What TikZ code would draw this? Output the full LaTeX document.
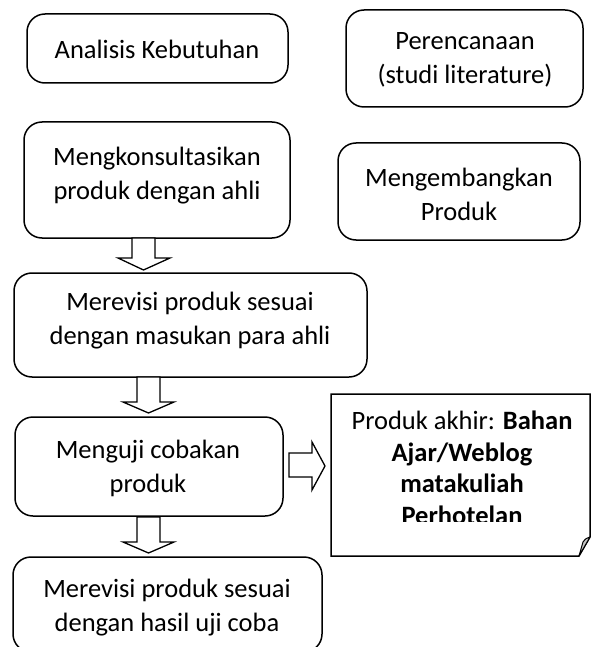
\documentclass[tikz,border=0pt]{standalone}
\usepackage{fontspec}
\setmainfont{Carlito}
\begin{document}
\begin{tikzpicture}[x=1pt,y=-1pt,
  box/.style={draw, line width=1.5pt, rounded corners=18pt, inner sep=0pt, outer sep=0pt},
  txt/.style={align=center, font=\fontsize{26.5}{34}\selectfont, inner sep=0pt},
  barrow/.style={draw, line width=1.3pt, fill=white, line join=miter}]
\useasboundingbox (0,0) rectangle (590,647);
% boxes
\node[box, minimum width=261pt, minimum height=69pt] (b1) at (157.5,48.5) {};
\node[box, minimum width=237pt, minimum height=97pt] (b2) at (464.5,58.5) {};
\node[box, minimum width=266pt, minimum height=116pt] (b3) at (157,180) {};
\node[box, minimum width=242pt, minimum height=97pt] (b4) at (459,191.5) {};
\node[box, minimum width=353pt, minimum height=104pt] (b5) at (190.5,325) {};
\node[box, minimum width=268pt, minimum height=99pt] (b6) at (149,466.5) {};
\node[box, minimum width=309pt, minimum height=95pt] (b7) at (167.5,604.5) {};
% texts
\node[txt] (t1) at (157,49) {Analisis Kebutuhan};
\node[txt] (t2) at (465,60) {Perencanaan\\(studi literature)};
\node[txt] (t3) at (157,176) {Mengkonsultasikan\\produk dengan ahli};
\node[txt] (t4) at (459,194) {Mengembangkan\\Produk};
\node[txt] (t5) at (190,321) {Merevisi produk sesuai\\dengan masukan para ahli};
\node[txt] (t6) at (148,468.5) {Menguji cobakan\\produk};
\node[txt] (t7) at (167,608) {Merevisi produk sesuai\\dengan hasil uji coba};
% note
\draw[line width=1.5pt, fill=white] (331,394) -- (590,394) -- (590,537) -- (579,556) -- (331,556) -- cycle;
\draw[line width=1pt, fill=gray!45, line join=round] (579,556) -- (583,542) .. controls (585,539) .. (590,537) -- cycle;
\begin{scope}
\clip (331,394) rectangle (590,521);
\node[txt, font=\fontsize{26.5}{31.5}\selectfont, anchor=north] (note) at (462,411) {Produk akhir: \textbf{Bahan}\\\textbf{Ajar/Weblog}\\\textbf{matakuliah}\\\textbf{Perhotelan}};
\end{scope}
% block arrows
\draw[barrow] (132,238) -- (132,258) -- (118,258) -- (143.5,270) -- (170,258) -- (155,258) -- (155,238) -- cycle;
\draw[barrow] (137,377) -- (137,402) -- (123,402) -- (148.5,413) -- (174,402) -- (160,402) -- (160,377) -- cycle;
\draw[barrow] (137,517) -- (137,542) -- (123,542) -- (148.5,553) -- (174,542) -- (160,542) -- (160,517) -- cycle;
\draw[barrow] (289,453) -- (312,453) -- (312,442) -- (325,466) -- (312,490) -- (312,477) -- (289,477) -- cycle;
\end{tikzpicture}
\end{document}
